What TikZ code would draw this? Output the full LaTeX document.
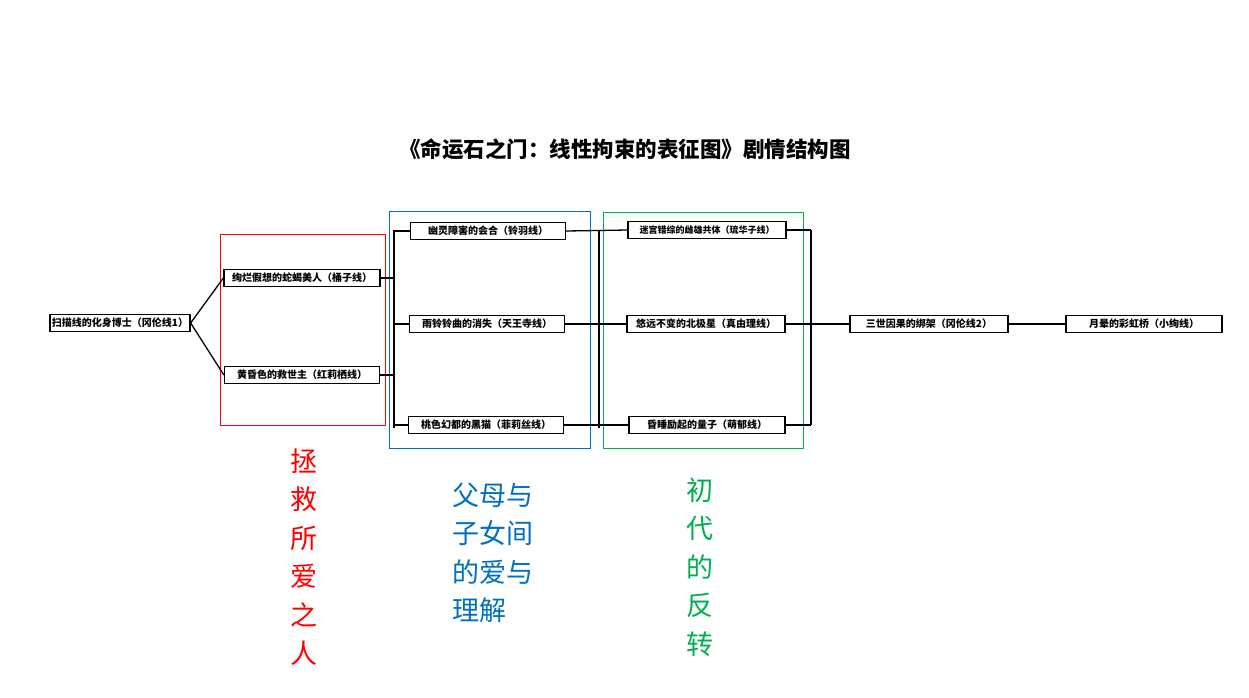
\documentclass[tikz,border=0pt]{standalone}
\usepackage{fontspec}
\setmainfont{Noto Sans CJK SC}
\begin{document}
\begin{tikzpicture}[x=1pt,y=-1pt,
 box/.style={draw,line width=1.3pt,fill=white,inner sep=0pt,font=\fontsize{10}{11}\selectfont\bfseries},
 ln/.style={line width=1.3pt},
 vt/.style={font=\fontsize{27}{38.5}\selectfont,align=center}]
\useasboundingbox (0,0) rectangle (1249,697);
\node[font=\fontsize{21.5}{24}\selectfont\bfseries] (t) at (625,149) {《命运石之门：线性拘束的表征图》剧情结构图};
\draw[red] (220,234) rectangle (385,425);
\draw[color={rgb,255:red,0;green,112;blue,192}] (389,211) rectangle (590,448);
\draw[color={rgb,255:red,0;green,176;blue,80}] (603,212) rectangle (803,448);
\node[box,minimum width=140,minimum height=17] (A) at (120,323) {扫描线的化身博士（冈伦线1）};
\node[box,minimum width=156,minimum height=17] (B1) at (302,278) {绚烂假想的蛇蝎美人（桶子线）};
\node[box,minimum width=155,minimum height=17] (B2) at (302,375) {黄昏色的救世主（红莉栖线）};
\node[box,minimum width=155,minimum height=17] (C1) at (488,231) {幽灵障害的会合（铃羽线）};
\node[box,minimum width=155,minimum height=17] (C2) at (487,324) {雨铃铃曲的消失（天王寺线）};
\node[box,minimum width=155,minimum height=17] (C3) at (486,425) {桃色幻都的黑猫（菲莉丝线）};
\node[box,minimum width=158,minimum height=17,font=\fontsize{9}{10}\selectfont\bfseries] (D1) at (707,230) {迷宫错综的雌雄共体（琉华子线）};
\node[box,minimum width=158,minimum height=17] (D2) at (706,324) {悠远不变的北极星（真由理线）};
\node[box,minimum width=156,minimum height=17] (D3) at (707,425) {昏睡励起的量子（萌郁线）};
\node[box,minimum width=158,minimum height=17] (E) at (929,324) {三世因果的绑架（冈伦线2）};
\node[box,minimum width=156,minimum height=17] (F) at (1144,324) {月晕的彩虹桥（小绚线）};
\coordinate (b1t) at (394,230); \coordinate (b1b) at (394,428);
\coordinate (b2t) at (599,230); \coordinate (b2b) at (599,428);
\coordinate (b3t) at (811,230); \coordinate (b3b) at (811,425);
\draw[ln] (A.east) -- (B1.west);
\draw[ln] (A.east) -- (B2.west);
\draw[ln] (b1t) -- (b1b);
\draw[ln] (B1.east) -- (B1.east -| b1t);
\draw[ln] (B2.east) -- (B2.east -| b1t);
\draw[ln] (C1.west -| b1t) -- (C1.west);
\draw[ln] (C2.west -| b1t) -- (C2.west);
\draw[ln] (C3.west -| b1t) -- (C3.west);
\draw[ln] (b2t) -- (b2b);
\draw[ln] (C1.east) -- (D1.west);
\draw[ln] (C2.east) -- (D2.west);
\draw[ln] (C3.east) -- (D3.west);
\draw[ln] (b3t) -- (b3b);
\draw[ln] (D1.east) -- (D1.east -| b3t);
\draw[ln] (D3.east) -- (D3.east -| b3t);
\draw[ln] (D2.east) -- (E.west);
\draw[ln] (E.east) -- (F.west);
\node[vt,red] (r) at (304,557) {拯\\救\\所\\爱\\之\\人};
\node[vt,color={rgb,255:red,0;green,112;blue,192},align=left] (b) at (493,553) {父母与\\子女间\\的爱与\\理解};
\node[vt,color={rgb,255:red,0;green,176;blue,80}] (g) at (700,567) {初\\代\\的\\反\\转};
\end{tikzpicture}
\end{document}
